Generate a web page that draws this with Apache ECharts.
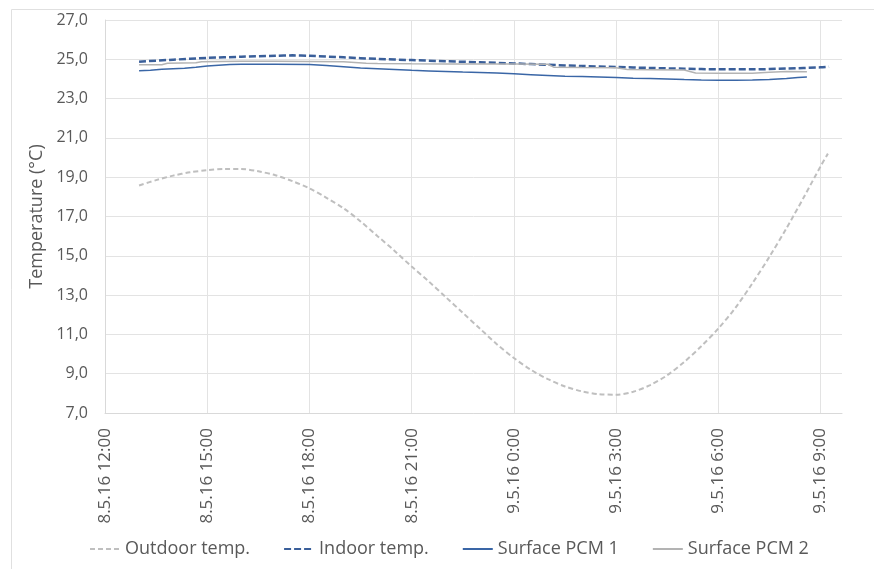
<!DOCTYPE html>
<html>
<head>
<meta charset="utf-8">
<script src="https://cdn.jsdelivr.net/npm/echarts@6/dist/echarts.min.js"></script>
<style>html,body{margin:0;padding:0;background:#fff}#c{width:874px;height:569px}</style>
</head>
<body>
<div id="c"></div>
<script>
// ---- data ----
const seriesNames = ['Outdoor temp.', 'Indoor temp.', 'Surface PCM 1', 'Surface PCM 2'];
const xTickLabels = ['8.5.16 12:00','8.5.16 15:00','8.5.16 18:00','8.5.16 21:00','9.5.16 0:00','9.5.16 3:00','9.5.16 6:00','9.5.16 9:00'];
const yTicks = [7, 9, 11, 13, 15, 17, 19, 21, 23, 25, 27];

const outdoorTimes = ['8.5 13:00','8.5 13:30','8.5 14:00','8.5 14:30','8.5 15:00','8.5 15:30','8.5 16:00','8.5 16:30','8.5 17:00','8.5 17:30','8.5 18:00','8.5 18:30','8.5 19:00','8.5 19:30','8.5 20:00','8.5 20:30','8.5 21:00','8.5 21:30','8.5 22:00','8.5 22:30','8.5 23:00','8.5 23:30','9.5 0:00','9.5 0:30','9.5 1:00','9.5 1:30','9.5 2:00','9.5 2:30','9.5 3:00','9.5 3:30','9.5 4:00','9.5 4:30','9.5 5:00','9.5 5:30','9.5 6:00','9.5 6:30','9.5 7:00','9.5 7:30','9.5 8:00','9.5 8:30','9.5 9:00','9.5 9:13'];
const outdoorTemp = [18.58,18.85,19.08,19.25,19.36,19.42,19.42,19.3,19.1,18.8,18.43,17.95,17.42,16.75,16.0,15.25,14.45,13.7,12.9,12.1,11.3,10.5,9.8,9.2,8.72,8.35,8.1,7.96,7.93,8.08,8.42,8.92,9.6,10.4,11.3,12.35,13.6,14.95,16.4,17.95,19.55,20.2];

const indoorTimes = ['8.5 13:00','8.5 14:00','8.5 15:00','8.5 16:00','8.5 17:00','8.5 17:30','8.5 18:00','8.5 19:00','8.5 20:00','8.5 21:00','8.5 22:00','8.5 23:00','9.5 0:00','9.5 1:00','9.5 2:00','9.5 3:00','9.5 4:00','9.5 5:00','9.5 6:00','9.5 7:00','9.5 8:00','9.5 9:00','9.5 9:15'];
const indoorTemp = [24.88,24.98,25.07,25.13,25.18,25.2,25.18,25.1,25.02,24.96,24.9,24.85,24.79,24.72,24.66,24.61,24.56,24.52,24.49,24.49,24.53,24.59,24.62];

const pcm1Times = ['8.5 13:00','8.5 13:20','8.5 13:40','8.5 14:00','8.5 14:20','8.5 14:40','8.5 15:00','8.5 15:20','8.5 15:40','8.5 16:00','8.5 17:00','8.5 18:00','8.5 18:30','8.5 19:00','8.5 19:30','8.5 20:00','8.5 20:30','8.5 21:00','8.5 21:30','8.5 22:00','8.5 22:30','8.5 23:00','8.5 23:30','9.5 0:00','9.5 0:30','9.5 1:00','9.5 1:30','9.5 2:00','9.5 2:30','9.5 3:00','9.5 3:30','9.5 4:00','9.5 4:30','9.5 5:00','9.5 5:30','9.5 6:00','9.5 6:30','9.5 7:00','9.5 7:30','9.5 8:00','9.5 8:20','9.5 8:36'];
const pcm1Temp = [24.42,24.44,24.49,24.52,24.55,24.6,24.66,24.7,24.74,24.75,24.75,24.74,24.68,24.62,24.56,24.52,24.48,24.44,24.41,24.38,24.35,24.33,24.3,24.26,24.22,24.18,24.14,24.12,24.1,24.07,24.04,24.02,24.0,23.97,23.95,23.94,23.94,23.95,23.97,24.02,24.07,24.1];

const pcm2Times = ['8.5 13:00','8.5 13:40','8.5 13:50','8.5 14:40','8.5 14:50','8.5 16:00','8.5 17:00','8.5 18:00','8.5 19:00','8.5 19:40','8.5 20:00','8.5 21:00','8.5 22:00','8.5 23:00','9.5 0:00','9.5 1:00','9.5 1:10','9.5 2:00','9.5 3:00','9.5 3:20','9.5 4:00','9.5 5:00','9.5 5:20','9.5 6:00','9.5 7:00','9.5 7:30','9.5 8:00','9.5 8:36'];
const pcm2Temp = [24.72,24.72,24.8,24.82,24.88,24.9,24.9,24.89,24.88,24.8,24.79,24.77,24.76,24.76,24.76,24.75,24.6,24.58,24.57,24.48,24.47,24.46,24.3,24.29,24.29,24.34,24.38,24.37];

// ---- helpers ----
// hours elapsed since 8.5.16 12:00
function toHours(s) {
  const [d, hm] = s.split(' ');
  const day = parseInt(d.split('.')[0], 10);
  const [h, m] = hm.split(':').map(Number);
  return (day - 8) * 24 + h + m / 60 - 12;
}
function pairs(times, vals) { return times.map((t, i) => [toHours(t), vals[i]]); }

const chart = echarts.init(document.getElementById('c'));
const FONT = 'Open Sans';
const cOut = '#bfbfbf', cIn = '#3a5f9a', cP1 = '#3a66a6', cP2 = '#b3b3b3';

chart.setOption({
  backgroundColor: '#fff',
  animation: false,
  textStyle: { fontFamily: FONT },
  graphic: [{ type: 'rect', left: 9, top: 7, shape: { width: 900, height: 600 },
    style: { fill: 'none', stroke: '#e0e0e0', lineWidth: 1 }, silent: true, z: -10 }],
  grid: { left: 105, top: 20, right: 32, bottom: 156, containLabel: false },
  xAxis: {
    type: 'value', min: 0, max: 21.63, interval: 3,
    axisLine: { show: true, lineStyle: { color: '#d9d9d9', width: 1 } },
    axisTick: { show: false },
    splitLine: { show: true, showMaxLine: false, showMinLine: true, lineStyle: { color: '#e3e3e3', width: 1 } },
    axisLabel: {
      rotate: 90, margin: 15, color: '#595959', fontSize: 17, fontFamily: FONT,
      showMaxLabel: false,
      formatter: v => { const i = Math.round(v / 3); return (Math.abs(v - i * 3) < 1e-6 && xTickLabels[i]) ? xTickLabels[i] : ''; }
    }
  },
  yAxis: {
    type: 'value', min: yTicks[0], max: yTicks[yTicks.length - 1], interval: 2,
    name: 'Temperature (°C)', nameLocation: 'middle', nameGap: 58, nameRotate: 90,
    nameTextStyle: { color: '#595959', fontSize: 18, fontFamily: FONT },
    axisLine: { show: true, lineStyle: { color: '#d9d9d9' } },
    axisTick: { show: false },
    splitLine: { show: true, lineStyle: { color: '#e3e3e3', width: 1 } },
    axisLabel: { color: '#595959', fontSize: 16, margin: 17, fontFamily: FONT,
      formatter: v => v.toFixed(1).replace('.', ',') }
  },
  legend: {
    bottom: 6, left: 84, itemWidth: 30, itemHeight: 12, itemGap: 33,
    itemStyle: { opacity: 0 },
    textStyle: { color: '#595959', fontSize: 18, fontFamily: FONT },
    data: seriesNames
  },
  series: [
    { name: seriesNames[0], type: 'line', showSymbol: false, symbol: 'none', smooth: 0.3,
      data: pairs(outdoorTimes, outdoorTemp),
      lineStyle: { color: cOut, width: 2, type: [5, 3] }, itemStyle: { color: cOut } },
    { name: seriesNames[1], type: 'line', showSymbol: false, symbol: 'none', smooth: 0.3,
      data: pairs(indoorTimes, indoorTemp),
      lineStyle: { color: cIn, width: 2.5, type: [7, 3] }, itemStyle: { color: cIn } },
    { name: seriesNames[2], type: 'line', showSymbol: false, symbol: 'none',
      data: pairs(pcm1Times, pcm1Temp),
      lineStyle: { color: cP1, width: 1.5 }, itemStyle: { color: cP1 } },
    { name: seriesNames[3], type: 'line', showSymbol: false, symbol: 'none',
      data: pairs(pcm2Times, pcm2Temp),
      lineStyle: { color: cP2, width: 1.5 }, itemStyle: { color: cP2 } }
  ]
});
</script>
</body>
</html>
